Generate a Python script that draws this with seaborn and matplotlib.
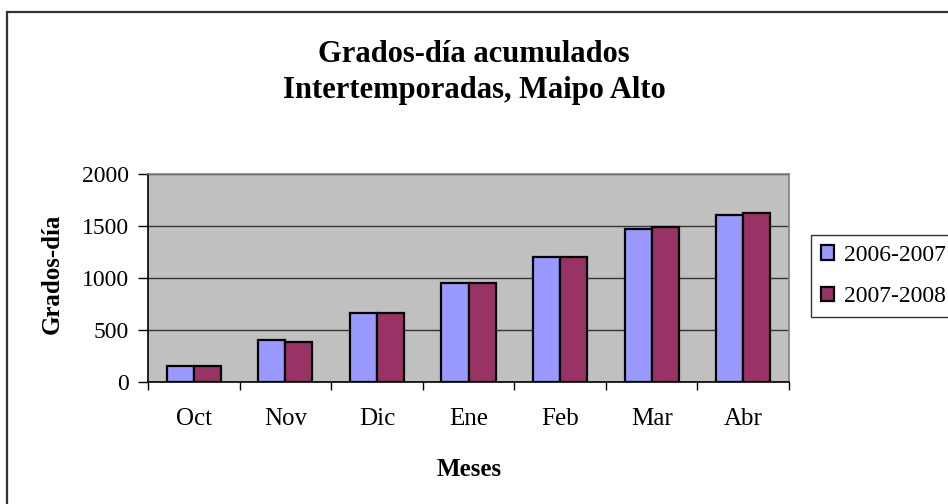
import numpy as np
import pandas as pd
import matplotlib
matplotlib.use('Agg')
import matplotlib.pyplot as plt
import matplotlib.patches as mpatches
from matplotlib.ticker import FixedLocator
import seaborn as sns

# ── Data ─────────────────────────────────────────────────────────────────────
meses = ['Oct', 'Nov', 'Dic', 'Ene', 'Feb', 'Mar', 'Abr']
temporadas = ['2006-2007', '2007-2008']
gd_0607 = [152, 400, 668, 956, 1202, 1470, 1605]
gd_0708 = [152, 382, 668, 956, 1202, 1489, 1624]
colores = ['#9999FF', '#993366']

df = pd.DataFrame({
    'Mes': meses * 2,
    'Temporada': [temporadas[0]] * len(meses) + [temporadas[1]] * len(meses),
    'GD': gd_0607 + gd_0708,
})

sns.set_style('white')
plt.rcParams['font.family'] = ['Liberation Serif', 'DejaVu Serif']

W, H = 948, 504
fig = plt.figure(figsize=(W / 100, H / 100), dpi=100)
ax = fig.add_axes([148 / W, 1 - 382 / H, (789 - 148) / W, (382 - 174) / H])

sns.barplot(data=df, x='Mes', y='GD', hue='Temporada', palette=colores,
            saturation=1, width=0.59, edgecolor='black', linewidth=1.6,
            ax=ax, legend=False, zorder=3)

ax.set_facecolor('#C0C0C0')
ax.set_ylim(0, 2000)
ax.set_xlim(-0.5, len(meses) - 0.5)
ax.set_yticks([0, 500, 1000, 1500, 2000])
ax.yaxis.grid(True, color='#333333', lw=1.0, zorder=0)
ax.set_axisbelow(True)
ax.set_xlabel('')
ax.set_ylabel('')

ax.xaxis.set_minor_locator(FixedLocator(np.arange(-0.5, len(meses), 1.0)))
ax.tick_params(axis='x', which='major', length=0, pad=19, labelsize=18,
               labelcolor='black')
ax.tick_params(axis='x', which='minor', length=5.5, width=1.0, direction='out',
               color='black', bottom=True)
ax.tick_params(axis='y', which='major', length=7, width=1.0, direction='out',
               color='black', left=True, pad=6.5, labelsize=17,
               labelcolor='black')

for s in ['left', 'bottom']:
    ax.spines[s].set_color('black')
    ax.spines[s].set_linewidth(1.2)
for s in ['top', 'right']:
    ax.spines[s].set_color('#808080')
    ax.spines[s].set_linewidth(1.2)

# ── Texts ────────────────────────────────────────────────────────────────────
fig.text(0.5, 1 - 62 / H, 'Grados-día acumulados', ha='center', va='baseline',
         fontsize=22, fontweight='bold', color='black')
fig.text(0.5, 1 - 98 / H, 'Intertemporadas, Maipo Alto', ha='center',
         va='baseline', fontsize=22, fontweight='bold', color='black')
fig.text(52 / W, 1 - 274 / H, 'Grados-día', rotation=90, ha='center',
         va='center', fontsize=18, fontweight='bold', color='black')
fig.text(469 / W, 1 - 476 / H, 'Meses', ha='center', va='baseline',
         fontsize=18, fontweight='bold', color='black')

# ── Legend ───────────────────────────────────────────────────────────────────
leg = ax.legend(ax.containers, temporadas, loc='upper left',
                bbox_to_anchor=(811 / W, 1 - 235 / H),
                bbox_transform=fig.transFigure, frameon=True, fancybox=False,
                fontsize=17, handlelength=0.55, handleheight=0.55,
                handletextpad=0.42, borderpad=0.42, labelspacing=0.85,
                borderaxespad=0, labelcolor='black')
leg.get_frame().set_edgecolor('black')
leg.get_frame().set_linewidth(1.0)

# ── Chart border ─────────────────────────────────────────────────────────────
fig.patches.append(mpatches.Rectangle((7 / W, -0.1), 2, 1 - 12 / H + 0.1,
                                      transform=fig.transFigure, fill=False,
                                      edgecolor='#333333', lw=1.6))

fig.savefig('out.png', dpi=100)
